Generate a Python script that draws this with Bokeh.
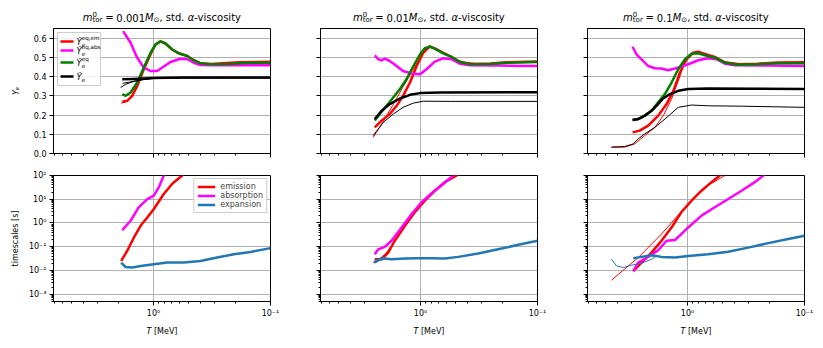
import math
from bokeh.plotting import figure
from bokeh.models import (Range1d, FixedTicker, CustomJSTickFormatter, PrintfTickFormatter,
                          Label, BoxAnnotation, Legend, LegendItem)
from bokeh.layouts import row, column
from bokeh.embed import file_html
from bokeh.resources import INLINE

FONT = "DejaVu Sans"
RED, MAG, GRN, BLK, BLU = "#ff0000", "#ff00ff", "#008000", "#000000", "#1f77b4"

# ---------------- axis ranges / ticks ----------------
T_MAX, T_MIN = 7.16, 0.1
YE_MAX = 0.65
TAU_MIN, TAU_MAX = 4.9e-4, 100.0
X_MAJOR = [1.0, 0.1]
X_MINOR = [2, 3, 4, 5, 6, 7] + [k / 10 for k in range(2, 10)]
YE_TICKS = [0.0, 0.1, 0.2, 0.3, 0.4, 0.5, 0.6]
TAU_MAJOR = [1e-3, 1e-2, 1e-1, 1e0, 1e1, 1e2]
TAU_MINOR = [k * 10.0 ** e for e in range(-4, 2) for k in range(2, 10)]
MASSES = ["0.001", "0.01", "0.1"]

# ---------------- data: panel 1 (m = 0.001) ----------------
p1_em_T = [1.85, 1.68, 1.52, 1.38, 1.21, 1.06, 0.961, 0.871, 0.790, 0.692, 0.608, 0.515, 0.453, 0.397, 0.326, 0.184, 0.100]
p1_em_Ye = [0.269, 0.274, 0.300, 0.352, 0.438, 0.516, 0.567, 0.583, 0.572, 0.541, 0.521, 0.507, 0.485, 0.469, 0.466, 0.474, 0.477]
p1_emthin_T = [1.89, 1.73, 1.54, 1.37, 1.21, 1.06, 0.961, 0.871]
p1_emthin_Ye = [0.262, 0.268, 0.290, 0.345, 0.440, 0.520, 0.567, 0.583]
p1_abs_T = [1.82, 1.57, 1.38, 1.21, 1.06, 0.930, 0.817, 0.716, 0.588, 0.515, 0.453, 0.397, 0.307, 0.100]
p1_abs_Ye = [0.636, 0.576, 0.498, 0.447, 0.429, 0.429, 0.452, 0.476, 0.493, 0.490, 0.472, 0.460, 0.459, 0.459]
p1_eq_T = [1.85, 1.73, 1.57, 1.38, 1.21, 1.06, 0.961, 0.871, 0.790, 0.692, 0.608, 0.515, 0.453, 0.397, 0.326, 0.228, 0.170, 0.100]
p1_eq_Ye = [0.309, 0.300, 0.317, 0.369, 0.447, 0.524, 0.567, 0.583, 0.572, 0.541, 0.521, 0.507, 0.485, 0.469, 0.464, 0.466, 0.471, 0.472]
p1_ye_T = [1.85, 1.48, 1.0, 0.554, 0.100]
p1_ye_Ye = [0.386, 0.388, 0.393, 0.395, 0.395]
p1_yethin_a_T = [1.91, 1.73, 1.48, 1.22, 1.0, 0.554, 0.100]
p1_yethin_a_Ye = [0.343, 0.360, 0.375, 0.385, 0.390, 0.394, 0.394]
p1_yethin_b_T = [1.84, 1.64, 1.34, 1.0, 0.100]
p1_yethin_b_Ye = [0.365, 0.370, 0.380, 0.392, 0.393]
p1_tem_T = [1.89, 1.68, 1.47, 1.29, 1.13, 0.994, 0.817, 0.692, 0.569, 0.502]
p1_tem = [0.0251, 0.0661, 0.245, 0.759, 1.70, 3.89, 16.6, 44.7, 100, 178]
p1_tabs_T = [1.85, 1.57, 1.34, 1.13, 0.994, 0.901, 0.817, 0.774]
p1_tabs = [0.501, 1.24, 4.54, 10.2, 14.1, 31.6, 100, 158]
p1_texp_T = [1.89, 1.73, 1.52, 1.29, 0.994, 0.764, 0.551, 0.397, 0.286, 0.206, 0.148, 0.100]
p1_texp = [0.0214, 0.0138, 0.0132, 0.0155, 0.0182, 0.0214, 0.0214, 0.0251, 0.0347, 0.0479, 0.0603, 0.0871]

# ---------------- data: panel 2 (m = 0.01) ----------------
p2_em_T = [2.46, 2.15, 1.83, 1.60, 1.41, 1.23, 1.08, 0.948, 0.833, 0.755, 0.640, 0.543, 0.461, 0.379, 0.252, 0.184, 0.100]
p2_em_Ye = [0.136, 0.171, 0.205, 0.248, 0.300, 0.369, 0.455, 0.524, 0.557, 0.547, 0.523, 0.503, 0.477, 0.465, 0.468, 0.474, 0.478]
p2_emthin_T = [2.54, 2.11, 1.73, 1.43, 1.17, 1.01, 0.889, 0.821, 0.640, 0.461, 0.307, 0.100]
p2_emthin_Ye = [0.084, 0.160, 0.250, 0.340, 0.430, 0.498, 0.548, 0.556, 0.522, 0.477, 0.466, 0.478]
p2_abs_T = [2.46, 2.30, 2.15, 2.02, 1.83, 1.60, 1.41, 1.19, 1.01, 0.889, 0.755, 0.640, 0.543, 0.461, 0.379, 0.207, 0.100]
p2_abs_Ye = [0.510, 0.490, 0.484, 0.493, 0.481, 0.455, 0.429, 0.416, 0.412, 0.438, 0.478, 0.495, 0.490, 0.467, 0.459, 0.457, 0.455]
p2_eq_T = [2.46, 2.23, 1.95, 1.71, 1.50, 1.32, 1.15, 1.01, 0.919, 0.833, 0.755, 0.640, 0.543, 0.461, 0.379, 0.252, 0.184, 0.100]
p2_eq_Ye = [0.171, 0.205, 0.248, 0.291, 0.335, 0.386, 0.455, 0.516, 0.547, 0.555, 0.545, 0.521, 0.502, 0.476, 0.464, 0.466, 0.472, 0.476]
p2_ye_T = [2.46, 2.15, 1.83, 1.50, 1.23, 1.01, 0.675, 0.100]
p2_ye_Ye = [0.179, 0.222, 0.257, 0.286, 0.305, 0.314, 0.317, 0.319]
p2_yethin_T = [2.54, 2.08, 1.71, 1.41, 1.15, 0.948, 0.554, 0.100]
p2_yethin_Ye = [0.093, 0.162, 0.205, 0.240, 0.262, 0.272, 0.271, 0.271]
p2_tem_T = [2.46, 2.15, 1.89, 1.66, 1.36, 1.12, 0.919, 0.755, 0.620, 0.492, 0.455]
p2_tem = [0.0295, 0.0295, 0.0562, 0.178, 0.759, 2.82, 8.71, 22.9, 52.5, 100, 126]
p2_temthin_T = [2.54, 2.29, 1.99, 1.67, 1.37, 1.13, 0.924, 0.759, 0.624, 0.483, 0.455]
p2_temthin = [0.0214, 0.0282, 0.0501, 0.158, 0.661, 2.51, 7.94, 20.9, 50.1, 100, 126]
p2_tabs_T = [2.46, 2.30, 2.02, 1.77, 1.45, 1.19, 0.981, 0.805, 0.662, 0.526, 0.492]
p2_tabs = [0.0479, 0.0776, 0.0977, 0.178, 0.646, 2.40, 7.41, 17.8, 38.0, 100, 126]
p2_texp_T = [2.49, 2.15, 1.77, 1.36, 1.05, 0.805, 0.620, 0.476, 0.321, 0.217, 0.146, 0.100]
p2_texp = [0.0214, 0.0324, 0.0295, 0.0316, 0.0324, 0.0324, 0.0316, 0.0372, 0.0513, 0.0776, 0.120, 0.178]
p2_texpthin_T = [2.49, 2.20, 1.91, 1.64, 1.22, 0.805, 0.620]
p2_texpthin = [0.0282, 0.0269, 0.0324, 0.0302, 0.0316, 0.0324, 0.0316]

# ---------------- data: panel 3 (m = 0.1) ----------------
p3_em_T = [2.95, 2.56, 2.17, 1.78, 1.51, 1.32, 1.16, 1.02, 0.894, 0.810, 0.711, 0.584, 0.480, 0.374, 0.252, 0.170, 0.100]
p3_em_Ye = [0.110, 0.119, 0.145, 0.197, 0.257, 0.326, 0.421, 0.490, 0.524, 0.529, 0.518, 0.502, 0.474, 0.464, 0.467, 0.473, 0.474]
p3_emthin_T = [4.46, 3.45, 2.82, 2.32, 1.90, 1.61, 1.37, 1.20, 1.05, 0.924, 0.810, 0.584, 0.480, 0.307, 0.100]
p3_emthin_Ye = [0.033, 0.033, 0.050, 0.093, 0.136, 0.197, 0.283, 0.378, 0.480, 0.520, 0.529, 0.502, 0.474, 0.465, 0.474]
p3_abs_T = [2.95, 2.73, 2.47, 2.17, 1.90, 1.67, 1.46, 1.28, 1.13, 0.986, 0.810, 0.665, 0.565, 0.480, 0.394, 0.207, 0.100]
p3_abs_Ye = [0.555, 0.516, 0.490, 0.455, 0.443, 0.442, 0.433, 0.442, 0.452, 0.464, 0.485, 0.495, 0.490, 0.467, 0.459, 0.457, 0.455]
p3_eq_T = [2.95, 2.64, 2.32, 2.03, 1.78, 1.56, 1.37, 1.20, 1.05, 0.924, 0.810, 0.711, 0.584, 0.480, 0.374, 0.252, 0.170, 0.100]
p3_eq_Ye = [0.174, 0.179, 0.197, 0.222, 0.266, 0.309, 0.369, 0.438, 0.490, 0.519, 0.521, 0.511, 0.498, 0.472, 0.462, 0.464, 0.469, 0.469]
p3_ye_T = [2.95, 2.64, 2.32, 2.03, 1.84, 1.64, 1.41, 1.20, 0.986, 0.675, 0.100]
p3_ye_Ye = [0.174, 0.179, 0.197, 0.222, 0.248, 0.283, 0.309, 0.326, 0.335, 0.338, 0.335]
p3_yethin_T = [4.46, 3.45, 2.91, 2.64, 2.32, 1.90, 1.56, 1.20, 0.924, 0.665, 0.345, 0.100]
p3_yethin_Ye = [0.033, 0.036, 0.050, 0.076, 0.102, 0.136, 0.179, 0.240, 0.252, 0.248, 0.246, 0.240]
p3_tem_T = [2.91, 2.47, 2.03, 1.67, 1.37, 1.13, 0.924, 0.759, 0.624, 0.530, 0.492]
p3_tem = [0.0093, 0.0214, 0.0562, 0.178, 0.646, 2.82, 8.71, 22.9, 52.5, 100, 141]
p3_temthin_T = [4.46, 2.64, 1.67, 1.05, 0.711, 0.480, 0.455]
p3_temthin = [0.0039, 0.0347, 0.339, 4.57, 31.6, 100, 126]
p3_tabs_T = [2.91, 2.64, 2.17, 1.78, 1.51, 1.28, 1.13, 0.986, 0.759, 0.584, 0.449, 0.345, 0.266, 0.225, 0.216]
p3_tabs = [0.0093, 0.0214, 0.0372, 0.0708, 0.178, 0.191, 0.339, 0.646, 2.04, 4.57, 10.2, 22.9, 52.5, 100, 117]
p3_texp_T = [2.91, 2.47, 2.03, 1.67, 1.28, 0.986, 0.665, 0.449, 0.303, 0.204, 0.138, 0.100]
p3_texp = [0.0324, 0.0372, 0.0437, 0.0372, 0.0347, 0.0407, 0.0479, 0.0617, 0.0912, 0.141, 0.209, 0.288]
p3_texpthin_T = [4.46, 4.04, 3.54, 3.01, 2.47, 2.03, 1.84, 1.67]
p3_texpthin = [0.0295, 0.0155, 0.0132, 0.0166, 0.0200, 0.0295, 0.0407, 0.0372]

# ---------------- layout constants ----------------
FRAME_W, FRAME_H_TOP, FRAME_H_BOT = 217, 125, 126
TITLE_H, XLAB_H = 27, 16
THICK, THIN = 2.5, 1.0
GRID = "#b0b0b0"
ML = [53, 40, 40]
MR = [10, 10, 12]

LOG_L, LOG_R = math.log10(T_MAX), math.log10(T_MIN)
YE_PER_PX = YE_MAX / FRAME_H_TOP


def t_at(dpx):
    """Temperature at a horizontal pixel offset from the frame's left edge."""
    return 10 ** (LOG_L - dpx / FRAME_W * (LOG_L - LOG_R))


def ye_at(dpx_down):
    """Ye at a vertical pixel offset below the frame top (top panels)."""
    return YE_MAX - dpx_down * YE_PER_PX


EM = {'m': 0.974, '0': 0.636, '1': 0.636, 't': 0.392, 'o': 0.612, 'r': 0.411, '=': 0.838,
      '.': 0.318, ' ': 0.318, 'M': 0.863, '⊙': 0.838, ',': 0.318, 's': 0.521, 'd': 0.635,
      'α': 0.659, '-': 0.361, 'v': 0.592, 'i': 0.278, 'c': 0.550, 'y': 0.592, 'e': 0.615,
      'q': 0.635, 'a': 0.613, 'b': 0.635, 'Ỹ': 0.611, 'T': 0.611, '[': 0.390, ']': 0.390,
      'V': 0.684}


def wid(s, size):
    return sum(EM.get(c, 0.6) for c in s) * size


def mk_label(x, y, text, size, italic=False, baseline="alphabetic"):
    return Label(x=x, y=y, text=text, text_font=FONT,
                 text_font_size=f"{size:.2f}px", text_color="black",
                 text_font_style="italic" if italic else "normal",
                 text_align="left", text_baseline=baseline)


def strip(col, height):
    """A thin, axis-less figure whose coordinates are pixels from the panel frame's left edge."""
    w = ML[col] + FRAME_W + MR[col]
    s = figure(width=w, height=height, x_range=Range1d(-ML[col], FRAME_W + MR[col]),
               y_range=Range1d(0, height), output_backend="svg", toolbar_location=None,
               x_axis_location=None, y_axis_location=None,
               min_border=0, min_border_left=0, min_border_right=0,
               min_border_top=0, min_border_bottom=0)
    s.outline_line_color = None
    s.xgrid.visible = False
    s.ygrid.visible = False
    s.background_fill_color = "white"
    s.border_fill_color = "white"
    return s


def place(s, pieces, y0):
    total = sum(g + a for g, _, _, _, _, a in pieces)
    x = FRAME_W / 2 - total / 2
    for g, txt, size, it, dy, adv in pieces:
        x += g
        s.add_layout(mk_label(x, y0 + dy, txt, size, it))
        x += adv


def title_strip(col, mass):
    s = strip(col, TITLE_H)
    big, small = 10.0, 7.0
    pieces = [
        (0, "m", big, True, 0, wid("m", big)),
        (0, "0", small, False, 4.0, 0),
        (0, "tor", small, False, -2.5, wid("tor", small)),
        (0.28 * big, "=", big, False, 0, wid("=", big)),
        (0.28 * big, mass, big, False, 0, wid(mass, big)),
        (0, "M", big, True, 0, wid("M", big)),
        (0, "⊙", small, False, -2.5, wid("⊙", small)),
        (0, ", std.", big, False, 0, wid(", std.", big)),
        (0.318 * big, "α", big, True, 0, wid("α", big)),
        (0, "-viscosity", big, False, 0, wid("-viscosity", big)),
    ]
    place(s, pieces, TITLE_H - 17.3)
    return s


def xlabel_strip(col):
    s = strip(col, XLAB_H)
    f = 8.0
    pieces = [
        (0, "T", f, True, 0, wid("T", f)),
        (0.318 * f, "[MeV]", f, False, 0, wid("[MeV]", f)),
    ]
    place(s, pieces, 6.0)
    return s


def style_axes(p):
    for ax in p.axis:
        ax.axis_line_color = "black"
        ax.major_tick_line_color = "black"
        ax.minor_tick_line_color = "black"
        ax.major_tick_out = 4
        ax.major_tick_in = 0
        ax.minor_tick_out = 2
        ax.minor_tick_in = 0
        ax.major_label_text_font = FONT
        ax.major_label_text_font_size = "8px"
        ax.major_label_text_color = "black"
        ax.major_label_standoff = 3
        ax.axis_label_text_font = FONT
        ax.axis_label_text_font_size = "8px"
        ax.axis_label_text_color = "black"
        ax.axis_label_text_font_style = "normal"
    p.outline_line_color = "black"
    p.outline_line_alpha = 1.0
    p.outline_line_width = 1
    p.xgrid.ticker = FixedTicker(ticks=X_MAJOR)
    p.xgrid.grid_line_color = GRID
    p.ygrid.grid_line_color = GRID


EMPTY = "return ''"
POW = """
const e = Math.round(Math.log10(tick));
const m = {'-':'\\u207b','0':'\\u2070','1':'\\u00b9','2':'\\u00b2','3':'\\u00b3','4':'\\u2074'};
return '10' + String(e).split('').map(c => m[c]).join('');
"""


def make_fig(top, col):
    ml, mr = ML[col], MR[col]
    if top:
        p = figure(width=ml + FRAME_W + mr, height=1 + FRAME_H_TOP + 12,
                   x_axis_type="log", x_range=Range1d(T_MAX, T_MIN),
                   y_range=Range1d(0, YE_MAX), output_backend="svg", toolbar_location=None,
                   min_border_left=ml, min_border_right=mr, min_border_top=1, min_border_bottom=12)
        p.yaxis.ticker = FixedTicker(ticks=YE_TICKS, minor_ticks=[])
        p.ygrid.ticker = FixedTicker(ticks=YE_TICKS)
        p.yaxis.formatter = PrintfTickFormatter(format="%.1f") if col == 0 else CustomJSTickFormatter(code=EMPTY)
        p.xaxis.formatter = CustomJSTickFormatter(code=EMPTY)
        if col == 0:
            p.yaxis.axis_label = "Yₑ"
    else:
        p = figure(width=ml + FRAME_W + mr, height=10 + FRAME_H_BOT + 20,
                   x_axis_type="log", y_axis_type="log", x_range=Range1d(T_MAX, T_MIN),
                   y_range=Range1d(TAU_MIN, TAU_MAX), output_backend="svg", toolbar_location=None,
                   min_border_left=ml, min_border_right=mr, min_border_top=10, min_border_bottom=20)
        p.yaxis.ticker = FixedTicker(ticks=TAU_MAJOR, minor_ticks=TAU_MINOR)
        p.ygrid.ticker = FixedTicker(ticks=TAU_MAJOR)
        p.yaxis.formatter = CustomJSTickFormatter(code=POW) if col == 0 else CustomJSTickFormatter(code=EMPTY)
        p.xaxis.formatter = CustomJSTickFormatter(code=POW)
        if col == 0:
            p.yaxis.axis_label = "timescales [s]"
    p.xaxis.ticker = FixedTicker(ticks=X_MAJOR, minor_ticks=X_MINOR)
    style_axes(p)
    if top and col == 0:
        p.yaxis.axis_label_text_font_style = "italic"
        p.yaxis.axis_label_standoff = 10
    else:
        p.yaxis.axis_label_standoff = 6
    p.background_fill_color = "white"
    p.border_fill_color = "white"
    return p


TOP = [
    dict(em=(p1_em_T, p1_em_Ye), thin_em=[(p1_emthin_T, p1_emthin_Ye)], abs=(p1_abs_T, p1_abs_Ye),
         eq=(p1_eq_T, p1_eq_Ye), ye=(p1_ye_T, p1_ye_Ye),
         thin_ye=[(p1_yethin_a_T, p1_yethin_a_Ye), (p1_yethin_b_T, p1_yethin_b_Ye)]),
    dict(em=(p2_em_T, p2_em_Ye), thin_em=[(p2_emthin_T, p2_emthin_Ye)], abs=(p2_abs_T, p2_abs_Ye),
         eq=(p2_eq_T, p2_eq_Ye), ye=(p2_ye_T, p2_ye_Ye), thin_ye=[(p2_yethin_T, p2_yethin_Ye)]),
    dict(em=(p3_em_T, p3_em_Ye), thin_em=[(p3_emthin_T, p3_emthin_Ye)], abs=(p3_abs_T, p3_abs_Ye),
         eq=(p3_eq_T, p3_eq_Ye), ye=(p3_ye_T, p3_ye_Ye), thin_ye=[(p3_yethin_T, p3_yethin_Ye)]),
]
BOT = [
    dict(em=(p1_tem_T, p1_tem), thin_em=[], abs=(p1_tabs_T, p1_tabs), exp=(p1_texp_T, p1_texp), thin_exp=[]),
    dict(em=(p2_tem_T, p2_tem), thin_em=[(p2_temthin_T, p2_temthin)], abs=(p2_tabs_T, p2_tabs),
         exp=(p2_texp_T, p2_texp), thin_exp=[(p2_texpthin_T, p2_texpthin)]),
    dict(em=(p3_tem_T, p3_tem), thin_em=[(p3_temthin_T, p3_temthin)], abs=(p3_tabs_T, p3_tabs),
         exp=(p3_texp_T, p3_texp), thin_exp=[(p3_texpthin_T, p3_texpthin)]),
]

titles, tops, bots, xlabs = [], [], [], []
for c in range(3):
    titles.append(title_strip(c, MASSES[c]))
    xlabs.append(xlabel_strip(c))

    p = make_fig(True, c)
    d = TOP[c]
    for xs, ys in d["thin_em"]:
        p.line(xs, ys, line_color=RED, line_width=THIN)
    p.line(*d["em"], line_color=RED, line_width=THICK, line_join="round")
    p.line(*d["abs"], line_color=MAG, line_width=THICK, line_join="round")
    p.line(*d["eq"], line_color=GRN, line_width=THICK, line_join="round")
    for xs, ys in d["thin_ye"]:
        p.line(xs, ys, line_color=BLK, line_width=THIN)
    p.line(*d["ye"], line_color=BLK, line_width=THICK, line_join="round")
    tops.append(p)

    q = make_fig(False, c)
    d = BOT[c]
    for xs, ys in d["thin_em"]:
        q.line(xs, ys, line_color=RED, line_width=THIN)
    r_em = q.line(*d["em"], line_color=RED, line_width=THICK, line_join="round")
    r_abs = q.line(*d["abs"], line_color=MAG, line_width=THICK, line_join="round")
    for xs, ys in d["thin_exp"]:
        q.line(xs, ys, line_color=BLU, line_width=THIN)
    r_exp = q.line(*d["exp"], line_color=BLU, line_width=THICK, line_join="round")
    if c == 0:
        leg = Legend(items=[LegendItem(label="emission", renderers=[r_em]),
                            LegendItem(label="absorption", renderers=[r_abs]),
                            LegendItem(label="expansion", renderers=[r_exp])],
                     location="top_right", margin=3, padding=3, spacing=0,
                     label_height=9, glyph_height=9, glyph_width=18, label_standoff=5,
                     label_text_font=FONT, label_text_font_size="8px",
                     border_line_color="#cccccc", border_line_width=1, border_line_alpha=1.0,
                     background_fill_color="white", background_fill_alpha=0.8)
        q.add_layout(leg)
    bots.append(q)

# ---------- custom legend with sub/superscripts (top-left panel) ----------
p = tops[0]
p.add_layout(BoxAnnotation(left=t_at(4), right=t_at(47), top=ye_at(4), bottom=ye_at(57),
                           fill_color="white", fill_alpha=0.8, line_color="#cccccc",
                           line_alpha=1.0, line_width=1))
LEG_ROWS = [(13, RED, "eq,em"), (22, MAG, "eq,abs"), (34, GRN, "eq"), (48, BLK, "")]
for ypx, colr, sup in LEG_ROWS:
    yy = ye_at(ypx)
    p.line([t_at(7), t_at(20)], [yy, yy], line_color=colr, line_width=THICK, level="overlay")
    p.add_layout(mk_label(t_at(23), yy, "Ỹ", 8.5, True, "middle"))
    xs = 23 + wid("Ỹ", 8.5)
    p.add_layout(mk_label(t_at(xs), yy - 2.5 * YE_PER_PX, "e", 5.6, True, "middle"))
    if sup:
        p.add_layout(mk_label(t_at(xs), yy + 3.5 * YE_PER_PX, sup, 5.6, False, "middle"))

layout = column(row(*titles, spacing=0), row(*tops, spacing=0), row(*bots, spacing=0),
                row(*xlabs, spacing=0), spacing=0)
open("out.html", "w").write(file_html(layout, INLINE))
